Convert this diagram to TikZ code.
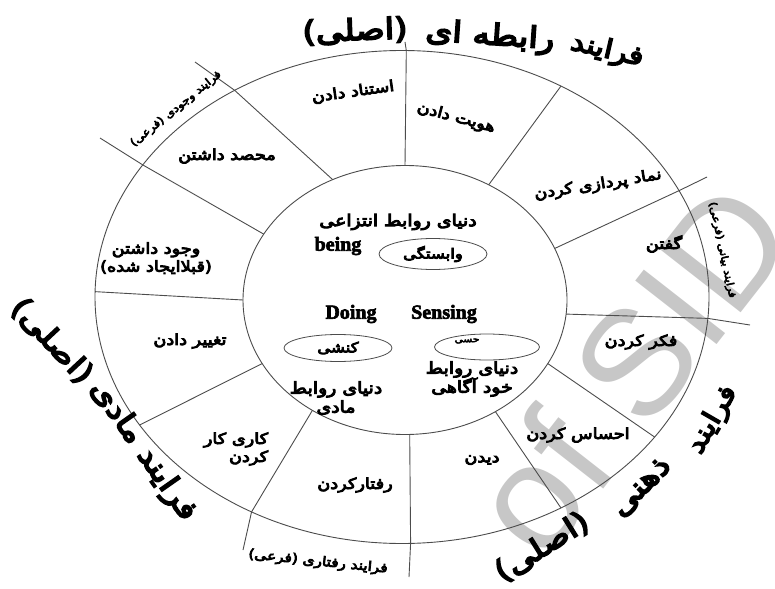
\documentclass[tikz,border=0pt]{standalone}
\usepackage{fontspec}
\setmainfont[BoldFeatures={FakeBold=3}]{Liberation Serif}
\newfontfamily\persf[Script=Arabic, FakeBold=6, FakeStretch=1.18]{DejaVu Sans}
\newfontfamily\wmfont{Liberation Sans}
\TeXXeTstate=1
\usetikzlibrary{shapes.geometric}
\newcommand{\FA}[1]{{\persf\beginR #1\endR}}
\begin{document}
\begin{tikzpicture}[x=1pt,y=-1pt,
  ring/.style={draw=black!70, line width=0.9pt, ellipse, inner sep=0pt, outer sep=0pt},
  sepline/.style={draw=black!70, line width=0.9pt},
  lens/.style={draw=black!70, line width=0.8pt, ellipse, inner sep=0pt, minimum width=108, minimum height=27, font=\fontsize{14}{16}\selectfont},
  lab/.style={inner sep=0pt, font=\fontsize{15}{18}\selectfont},
  ctr/.style={inner sep=0pt, font=\fontsize{16}{19}\selectfont},
  en/.style={inner sep=0pt, font=\fontsize{20}{22}\selectfont\bfseries},
  title/.style={inner sep=0pt, font=\fontsize{29}{32}\selectfont},
  sub/.style={inner sep=0pt, font=\fontsize{10.5}{12}\selectfont},
  wm/.style={inner sep=0pt, text=black!22, font=\wmfont\fontsize{150}{150}\selectfont}]
\useasboundingbox (0,0) rectangle (775,588);
\begin{scope}
\clip (0,0) rectangle (775,588);
\node[wm, rotate=52] (wmark) at (630,368) {of SID};
\end{scope}
% ellipses
\node[ring, minimum width=614, minimum height=493] (out) at (402,297) {};
\node[ring, minimum width=324, minimum height=269] (in) at (405,300) {};
% free ends
\coordinate (e1) at (405,42);
\coordinate (e3) at (707,177);
\coordinate (e4) at (750,325);
\coordinate (e7) at (409,577);
\coordinate (e8) at (243,550);
\coordinate (e11) at (100,138);
\coordinate (e12) at (195,62);
% separators
\draw[sepline] (in.90) -- (out.89.3) -- (e1);
\draw[sepline] (in.54) -- (out.53.6);
\draw[sepline] (in.19.8) -- (out.21.8) -- (e3);
\draw[sepline] (in.-5.3) -- (out.-4.7) -- (e4);
\draw[sepline] (in.-24) -- (out.-29.2);
\draw[sepline] (in.-51.9) -- (out.-53.9);
\draw[sepline] (in.-88.3) -- (out.-88.4) -- (e7);
\draw[sepline] (in.-130.3) -- (out.-125.2) -- (e8);
\draw[sepline] (in.-156.9) -- (out.-154.9);
\draw[sepline] (in.180) -- (out.179.1);
\draw[sepline] (in.155.6) -- (out.153.1) -- (e11);
\draw[sepline] (in.121.4) -- (out.129.2) -- (e12);
% titles
\node[title, rotate=2] (t1a) at (355,31) {\FA{(اصلی)}};
\node[title, rotate=-4] (t1b) at (490,37) {\FA{رابطه ای}};
\node[title, rotate=-13, font=\fontsize{26}{30}\selectfont] (t1c) at (607,51) {\FA{فرایند}};
\node[title, rotate=-47] (t2a) at (52,341) {\FA{(اصلی)}};
\node[title, rotate=-55] (t2b) at (143,451) {\FA{فرایند مادی}};
\node[title, rotate=32] (t3a) at (542,547) {\FA{(اصلی)}};
\node[title, rotate=45] (t3b) at (642,488) {\FA{ذهنی}};
\node[title, rotate=60, font=\fontsize{26}{30}\selectfont] (t3c) at (713,420) {\FA{فرایند}};
% secondary labels
\node[sub, rotate=39] (s1) at (176,109) {\FA{فرایند وجودی (فرعی)}};
\node[sub, rotate=-78, font=\fontsize{10}{12}\selectfont] (s2) at (722,250) {\FA{فرایند بیانی (فرعی)}};
\node[sub, rotate=-6, font=\fontsize{13}{15}\selectfont] (s3) at (318,562) {\FA{فرایند رفتاری (فرعی)}};
% ring labels
\node[lab, rotate=8] (r1) at (353,92) {\FA{استناد دادن}};
\node[lab, rotate=-15] (r2) at (456,118) {\FA{هویت دادن}};
\node[lab, rotate=9] (r3) at (598,185) {\FA{نماد پردازی کردن}};
\node[lab] (r4) at (664,244) {\FA{گفتن}};
\node[lab] (r5) at (641,342) {\FA{فکر کردن}};
\node[lab] (r6) at (578,435) {\FA{احساس کردن}};
\node[lab] (r7) at (482,460) {\FA{دیدن}};
\node[lab] (r8) at (355,485) {\FA{رفتارکردن}};
\node[lab, align=right] (r9) at (236,449) {\FA{کاری کار}\\\FA{کردن}};
\node[lab] (r10) at (190,341) {\FA{تغییر دادن}};
\node[lab, align=center] (r11) at (156,258) {\FA{وجود داشتن}\\\FA{(قبلاایجاد شده)}};
\node[lab] (r12) at (227,156) {\FA{محصد داشتن}};
% centre
\node[ctr] (c1) at (398,222) {\FA{دنیای روابط انتزاعی}};
\node[en] (being) at (338,246) {being};
\node[lens, minimum height=31] (l1) at (433,254) {\FA{وابستگی}};
\node[en] (doing) at (351,314) {Doing};
\node[en] (sensing) at (444,314) {Sensing};
\node[lens] (l2) at (338,348) {\FA{کنشی}};
\node[lens, minimum width=105, minimum height=26] (l3) at (487,347) {};
\node[sub, font=\fontsize{9}{10}\selectfont] (l3t) at (467,341) {\FA{حسی}};
\node[ctr, align=center] (c2) at (472,379) {\FA{دنیای روابط}\\\FA{خود آگاهی}};
\node[ctr, align=center] (c3) at (336,398) {\FA{دنیای روابط}\\\FA{مادی}};
\end{tikzpicture}
\end{document}
